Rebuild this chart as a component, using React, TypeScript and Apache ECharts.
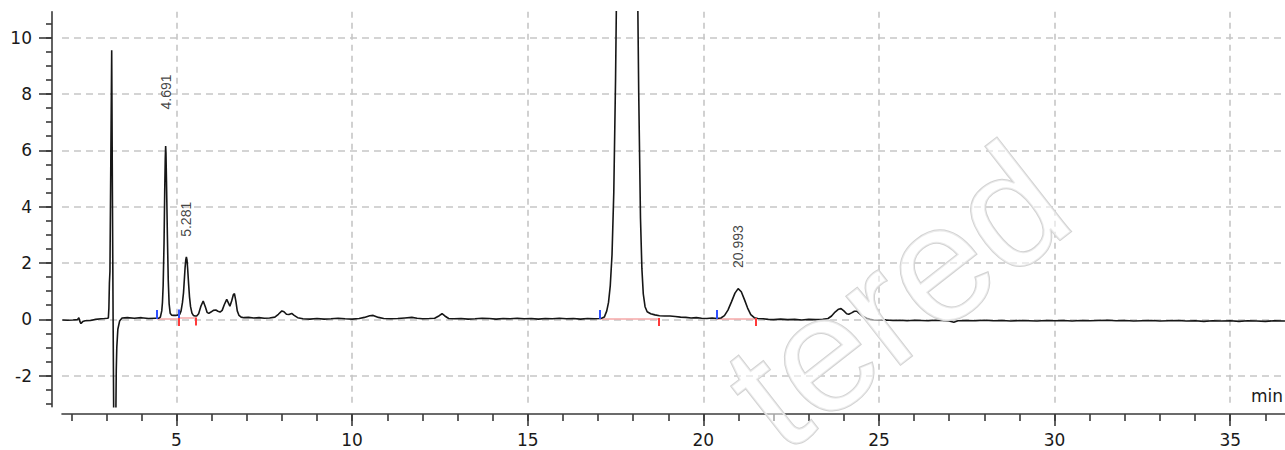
import React, { useEffect, useRef } from "react";
import * as echarts from "echarts";

// Detector signal: [retention time (min), signal]
const trace: [number, number][] = [
  [1.75, -0.02], [1.9, -0.03], [2.05, -0.02], [2.18, -0.01], [2.22, 0.06], [2.25, -0.08], [2.28, -0.15],
  [2.33, -0.08], [2.4, -0.05], [2.55, -0.04], [2.7, 0.0], [2.85, 0.02], [2.95, 0.03], [3.03, 0.04],
  [3.06, 0.05], [3.075, 0.4], [3.09, 1.3], [3.105, 1.7], [3.155, 9.55], [3.175, 4.5], [3.195, 0.0],
  [3.215, -4.0], [3.24, -7.0], [3.265, -4.5], [3.285, -1.8], [3.3, -1.0], [3.33, -0.35], [3.38, -0.06],
  [3.45, 0.05], [3.6, 0.06], [3.8, 0.04], [4.0, 0.06], [4.2, 0.03], [4.4, 0.04], [4.5, 0.04],
  [4.54, 0.08], [4.58, 0.3], [4.6, 0.6], [4.62, 1.2], [4.645, 2.7], [4.665, 4.6], [4.68, 5.7],
  [4.691, 6.15], [4.7, 5.9], [4.715, 4.9], [4.74, 3.0], [4.765, 1.4], [4.79, 0.55], [4.82, 0.22],
  [4.86, 0.15], [4.92, 0.14], [4.98, 0.14], [5.05, 0.16], [5.09, 0.17], [5.13, 0.3], [5.17, 0.6],
  [5.2, 0.95], [5.225, 1.45], [5.245, 1.85], [5.265, 2.12], [5.281, 2.22], [5.3, 2.1], [5.32, 1.75],
  [5.345, 1.25], [5.37, 0.8], [5.4, 0.45], [5.44, 0.22], [5.48, 0.14], [5.53, 0.12], [5.575, 0.12],
  [5.63, 0.2], [5.69, 0.45], [5.76, 0.65], [5.82, 0.45], [5.87, 0.25], [5.92, 0.21], [5.98, 0.26],
  [6.05, 0.32], [6.12, 0.33], [6.18, 0.29], [6.24, 0.26], [6.3, 0.32], [6.36, 0.52], [6.43, 0.71],
  [6.49, 0.55], [6.52, 0.47], [6.57, 0.65], [6.62, 0.88], [6.65, 0.91], [6.69, 0.65], [6.73, 0.3],
  [6.78, 0.14], [6.84, 0.08], [6.92, 0.06], [7.05, 0.07], [7.2, 0.05], [7.35, 0.06], [7.5, 0.04],
  [7.65, 0.05], [7.8, 0.08], [7.9, 0.18], [8.0, 0.3], [8.06, 0.27], [8.13, 0.18], [8.2, 0.17],
  [8.28, 0.21], [8.35, 0.14], [8.45, 0.06], [8.6, 0.02], [8.8, 0.01], [9.0, 0.03], [9.2, 0.01],
  [9.4, 0.02], [9.6, 0.04], [9.8, 0.02], [10.0, 0.01], [10.2, 0.03], [10.35, 0.07], [10.5, 0.13],
  [10.6, 0.14], [10.75, 0.07], [10.9, 0.03], [11.1, 0.02], [11.3, 0.03], [11.5, 0.05], [11.7, 0.07],
  [11.85, 0.04], [12.0, 0.02], [12.2, 0.03], [12.35, 0.04], [12.48, 0.13], [12.56, 0.2], [12.64, 0.12],
  [12.75, 0.03], [12.9, 0.02], [13.1, 0.03], [13.3, 0.01], [13.5, 0.02], [13.7, 0.04], [13.9, 0.03],
  [14.1, 0.01], [14.3, 0.03], [14.5, 0.02], [14.7, 0.04], [14.9, 0.02], [15.1, 0.03], [15.3, 0.01],
  [15.5, 0.03], [15.7, 0.02], [15.9, 0.04], [16.1, 0.02], [16.3, 0.03], [16.5, 0.01], [16.7, 0.03],
  [16.9, 0.02], [17.06, 0.03], [17.1, 0.04], [17.18, 0.08], [17.25, 0.3], [17.3, 0.6], [17.35, 1.2],
  [17.4, 2.3], [17.45, 4.5], [17.5, 8.5], [17.55, 14], [17.6, 23], [17.65, 35], [17.7, 48],
  [17.76, 62], [17.83, 70], [17.9, 62], [17.96, 49], [18.01, 36], [18.06, 24], [18.11, 14],
  [18.16, 8], [18.21, 3.6], [18.25, 1.8], [18.29, 0.9], [18.34, 0.45], [18.4, 0.27], [18.5, 0.2],
  [18.62, 0.16], [18.75, 0.13], [18.9, 0.12], [19.05, 0.12], [19.2, 0.1], [19.35, 0.08], [19.5, 0.07],
  [19.65, 0.05], [19.8, 0.06], [19.95, 0.04], [20.1, 0.03], [20.25, 0.05], [20.39, 0.03], [20.5, 0.05],
  [20.6, 0.13], [20.7, 0.33], [20.8, 0.62], [20.9, 0.93], [20.99, 1.09], [21.08, 0.98], [21.17, 0.7],
  [21.26, 0.4], [21.35, 0.17], [21.45, 0.06], [21.55, 0.03], [21.7, 0.02], [21.85, 0.0], [22.0, -0.01],
  [22.2, 0.01], [22.4, -0.01], [22.6, 0.0], [22.8, -0.02], [23.0, 0.0], [23.2, -0.01], [23.4, 0.0],
  [23.55, 0.03], [23.65, 0.12], [23.75, 0.26], [23.85, 0.36], [23.92, 0.38], [24.0, 0.3], [24.08, 0.2],
  [24.14, 0.18], [24.22, 0.23], [24.3, 0.29], [24.37, 0.29], [24.45, 0.2], [24.55, 0.1], [24.65, 0.04],
  [24.75, 0.0], [24.85, -0.02], [25.0, -0.03], [25.2, -0.02], [25.4, -0.04], [25.6, -0.03], [25.8, -0.05],
  [26.0, -0.03], [26.2, -0.04], [26.4, -0.05], [26.6, -0.03], [26.8, -0.04], [27.0, -0.06], [27.13, -0.1],
  [27.25, -0.05], [27.5, -0.04], [27.75, -0.05], [28.0, -0.03], [28.25, -0.05], [28.5, -0.04], [28.75, -0.06],
  [29.0, -0.04], [29.25, -0.05], [29.5, -0.06], [29.75, -0.04], [30.0, -0.05], [30.25, -0.04], [30.5, -0.06],
  [30.75, -0.04], [31.0, -0.05], [31.25, -0.04], [31.5, -0.03], [31.75, -0.05], [32.0, -0.04], [32.25, -0.06],
  [32.5, -0.05], [32.75, -0.04], [33.0, -0.06], [33.25, -0.05], [33.5, -0.04], [33.75, -0.06], [34.0, -0.05],
  [34.25, -0.07], [34.5, -0.05], [34.75, -0.06], [35.0, -0.05], [35.25, -0.07], [35.5, -0.05], [35.75, -0.06],
  [36.0, -0.07], [36.25, -0.05], [36.56, -0.06],
];

// Retention-time annotations
const peakLabels = ["4.691", "5.281", "20.993"];
const peakLabelTimes = [4.691, 5.281, 20.993];
const peakLabelBase = [7.45, 2.93, 1.82];

// Integration markers (start = blue, end = red) and baseline level
const integrationStarts = [4.44, 5.07, 17.06, 20.39];
const integrationEnds = [5.05, 5.545, 18.73, 21.5];
const baselineLevel = [0.03, 0.05, 0.03, 0.03];

const xMin = 1.74;
const xMax = 36.56;
const yMin = -3.1;
const yMax = 10.92;

const axisUnit = "min";
const watermarkText = "tered";

export default function App() {
  const ref = useRef<HTMLDivElement>(null);

  useEffect(() => {
    if (!ref.current) return;
    const chart = echarts.init(ref.current, undefined, { renderer: "svg" });

    const axisColor = "#3a3a3a";
    const labelStyle = { color: "#1a1a1a", fontFamily: "DejaVu Sans", fontSize: 17 };
    const gridLine = { show: true, showMinLine: false, showMaxLine: false, lineStyle: { color: "#c6c6c6", width: 1.6, type: [7, 5] } };

    const option: any = {
      animation: false,
      backgroundColor: "#ffffff",
      grid: [
        { left: 62, right: 0, top: 11.7, bottom: 43.3, containLabel: false },
        { left: 71.26, right: 19.7, top: 23.5, bottom: 46.2, containLabel: false },
      ],
      xAxis: [
        {
          type: "value", gridIndex: 0, min: xMin, max: xMax, splitNumber: 7, offset: 7.3,
          axisLine: { show: true, onZero: false, lineStyle: { color: axisColor, width: 1.6 } },
          axisTick: { show: true, length: 12, lineStyle: { color: axisColor, width: 1.6 } },
          axisLabel: { ...labelStyle, margin: 17, showMinLabel: false, showMaxLabel: false },
          splitLine: { ...gridLine, lineStyle: { color: "#c6c6c6", width: 1.6, type: [6, 5] } },
        },
        {
          type: "value", gridIndex: 1, min: 2, max: 36, interval: 1, offset: 10.2,
          axisLine: { show: false, onZero: false },
          axisTick: { show: true, length: 7, lineStyle: { color: axisColor, width: 1.6 } },
          axisLabel: { show: false },
          splitLine: { show: false },
        },
      ],
      yAxis: [
        {
          type: "value", gridIndex: 0, min: yMin, max: yMax, splitNumber: 7, offset: 10,
          axisLine: { show: true, onZero: false, lineStyle: { color: axisColor, width: 1.6 } },
          axisTick: { show: true, length: 13, lineStyle: { color: axisColor, width: 1.6 } },
          axisLabel: { ...labelStyle, margin: 20, showMinLabel: false, showMaxLabel: false },
          splitLine: gridLine,
        },
        {
          type: "value", gridIndex: 1, min: -3, max: 10.5, interval: 0.5, offset: 19.26,
          axisLine: { show: false, onZero: false },
          axisTick: { show: true, length: 6, lineStyle: { color: axisColor, width: 1.6 } },
          axisLabel: { show: false },
          splitLine: { show: false },
        },
      ],
      series: [
        {
          type: "lines", coordinateSystem: "cartesian2d", xAxisIndex: 0, yAxisIndex: 0, z: 2,
          lineStyle: { color: "#f6a9a9", width: 1.5, opacity: 1 },
          data: integrationStarts.map((t, i) => ({ coords: [[t, baselineLevel[i]], [integrationEnds[i], baselineLevel[i]]] })),
        },
        {
          type: "line", xAxisIndex: 0, yAxisIndex: 0, data: trace, showSymbol: false, clip: true, z: 3,
          lineStyle: { color: "#161616", width: 1.6 },
        },
        {
          type: "lines", coordinateSystem: "cartesian2d", xAxisIndex: 0, yAxisIndex: 0, z: 4,
          lineStyle: { color: "#3050ff", width: 2, opacity: 1 },
          data: integrationStarts.map((t, i) => ({ coords: [[t, baselineLevel[i] - 0.02], [t, baselineLevel[i] + 0.3]] })),
        },
        {
          type: "lines", coordinateSystem: "cartesian2d", xAxisIndex: 0, yAxisIndex: 0, z: 4,
          lineStyle: { color: "#ff3a3a", width: 2, opacity: 1 },
          data: integrationEnds.map((t, i) => ({ coords: [[t, baselineLevel[i] + 0.02], [t, baselineLevel[i] - 0.27]] })),
        },
        {
          type: "scatter", xAxisIndex: 0, yAxisIndex: 0, symbolSize: 0, z: 5,
          data: peakLabelTimes.map((t, i) => ({ value: [t, peakLabelBase[i]], name: peakLabels[i] })),
          label: {
            show: true, formatter: "{b}", position: "inside", rotate: 90, align: "left", verticalAlign: "middle",
            color: "#111111", fontFamily: "Liberation Sans", fontSize: 14,
          },
        },
      ],
      graphic: [
        {
          type: "text", x: 1251, y: 396, silent: true, z: 10,
          style: { text: axisUnit, fill: "#1a1a1a", font: "17px 'DejaVu Sans'", align: "left", verticalAlign: "middle" },
        },
        {
          type: "text", x: 1095, y: 245, rotation: (38 * Math.PI) / 180, silent: true, z: 100,
          style: {
            text: watermarkText, fontSize: 165, fontFamily: "Liberation Sans",
            fill: "rgba(255,255,255,0.55)", stroke: "#d2d2d2", lineWidth: 2, align: "right", verticalAlign: "bottom",
          },
        },
      ],
    };

    chart.setOption(option);
    return () => chart.dispose();
  }, []);

  return <div ref={ref} style={{ position: "fixed", left: 0, top: 0, width: 1285, height: 450 }} />;
}
